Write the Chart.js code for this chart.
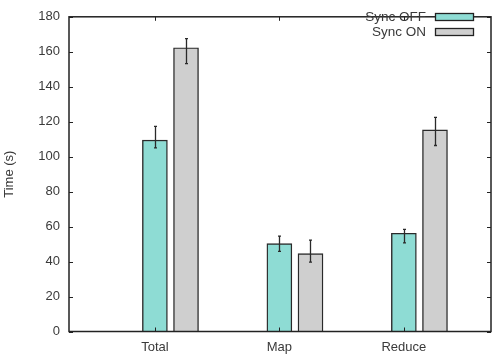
<!DOCTYPE html>
<html><head><meta charset="utf-8">
<style>html,body{margin:0;padding:0;background:#fff}#c{display:block}</style>
<script src="https://cdn.jsdelivr.net/npm/chart.js@4/dist/chart.umd.min.js"></script>
</head><body>
<canvas id="c" width="499" height="359"></canvas>
<script>
const categories = ["Total", "Map", "Reduce"];
const syncOff = [109.5, 50.3, 56.2];
const syncOffLow = [105, 45.8, 50.7];
const syncOffHigh = [117.3, 54.5, 58.4];
const syncOn = [162.3, 44.5, 115.3];
const syncOnLow = [153.2, 39.7, 106.4];
const syncOnHigh = [167.5, 52.3, 122.5];
const yTicks = [0, 20, 40, 60, 80, 100, 120, 140, 160, 180];
const seriesNames = ["Sync OFF", "Sync ON"];
const onOffset = 0.25;

const FONT = "'Liberation Sans', Arial, sans-serif";
const TXT = '#3a3a3a';

const errPlugin = {
  id: 'err',
  afterDatasetsDraw(chart) {
    const ctx = chart.ctx, x = chart.scales.x, y = chart.scales.y;
    const sets = [[syncOffLow, syncOffHigh, 0], [syncOnLow, syncOnHigh, onOffset]];
    ctx.save();
    ctx.strokeStyle = '#2a2a2a'; ctx.lineWidth = 1.3;
    sets.forEach(([lo, hi, off]) => {
      categories.forEach((c, i) => {
        const px = Math.round(x.getPixelForValue(i + off)) + 0.5;
        const y1 = y.getPixelForValue(lo[i]), y2 = y.getPixelForValue(hi[i]);
        ctx.beginPath();
        ctx.moveTo(px, y1); ctx.lineTo(px, y2);
        ctx.moveTo(px - 1.5, y1); ctx.lineTo(px + 1.5, y1);
        ctx.moveTo(px - 1.5, y2); ctx.lineTo(px + 1.5, y2);
        ctx.stroke();
      });
    });
    ctx.restore();
  }
};

const framePlugin = {
  id: 'frame',
  afterDraw(chart) {
    const ctx = chart.ctx, a = chart.chartArea, x = chart.scales.x, y = chart.scales.y;
    ctx.save();
    ctx.strokeStyle = '#222'; ctx.lineWidth = 1.5;
    ctx.strokeRect(a.left, a.top, a.right - a.left, a.bottom - a.top);
    ctx.lineWidth = 1;
    yTicks.forEach(v => {
      const py = Math.round(y.getPixelForValue(v)) + 0.5;
      ctx.beginPath();
      ctx.moveTo(a.left, py); ctx.lineTo(a.left + 4, py);
      ctx.moveTo(a.right, py); ctx.lineTo(a.right - 4, py);
      ctx.stroke();
    });
    categories.forEach((c, i) => {
      const px = Math.round(x.getPixelForValue(i)) + 0.5;
      ctx.beginPath();
      ctx.moveTo(px, a.bottom); ctx.lineTo(px, a.bottom - 4);
      ctx.moveTo(px, a.top); ctx.lineTo(px, a.top + 4);
      ctx.stroke();
    });
    // legend
    ctx.font = '13.5px ' + FONT;
    ctx.textAlign = 'right'; ctx.textBaseline = 'middle';
    chart.data.datasets.forEach((ds, k) => {
      const cy = 17 + k * 15;
      ctx.fillStyle = TXT;
      ctx.fillText(ds.label, 426, cy);
      ctx.fillStyle = ds.backgroundColor;
      ctx.fillRect(435.5, cy - 3.5, 38, 7);
      ctx.strokeStyle = '#222'; ctx.lineWidth = 1.3;
      ctx.strokeRect(435.5, cy - 3.5, 38, 7);
    });
    ctx.restore();
  }
};

new Chart(document.getElementById('c'), {
  type: 'bar',
  data: {
    datasets: [
      { label: seriesNames[0], data: syncOff.map((v, i) => ({x: i, y: v})),
        backgroundColor: '#8edcd4', borderColor: '#2a2a2a', borderWidth: 1.4, barThickness: 25, grouped: false },
      { label: seriesNames[1], data: syncOn.map((v, i) => ({x: i + onOffset, y: v})),
        backgroundColor: '#cfcfcf', borderColor: '#2a2a2a', borderWidth: 1.4, barThickness: 25, grouped: false }
    ]
  },
  options: {
    responsive: false, animation: false,
    layout: { padding: { left: 0, right: 8, top: 7, bottom: 0 } },
    plugins: { legend: { display: false }, tooltip: { enabled: false } },
    scales: {
      x: {
        type: 'linear', min: -0.69, max: 2.7, offset: false,
        grid: { display: false, drawTicks: false },
        border: { display: false },
        afterBuildTicks(s) { s.ticks = categories.map((c, i) => ({ value: i })); },
        afterFit(s) { s.height = 27.5; },
        ticks: { color: TXT, font: { size: 13, family: FONT }, padding: 8,
          callback: v => categories[v] }
      },
      y: {
        min: 0, max: 180,
        afterBuildTicks(s) { s.ticks = yTicks.map(v => ({ value: v })); },
        afterFit(s) { s.width = 69; },
        grid: { display: false, drawTicks: false },
        border: { display: false },
        ticks: { color: TXT, font: { size: 13, family: FONT }, padding: 9 },
        title: { display: true, text: 'Time (s)', color: TXT, font: { size: 13, family: FONT }, padding: { top: 2, bottom: 0 } }
      }
    }
  },
  plugins: [errPlugin, framePlugin]
});
</script>
</body></html>
